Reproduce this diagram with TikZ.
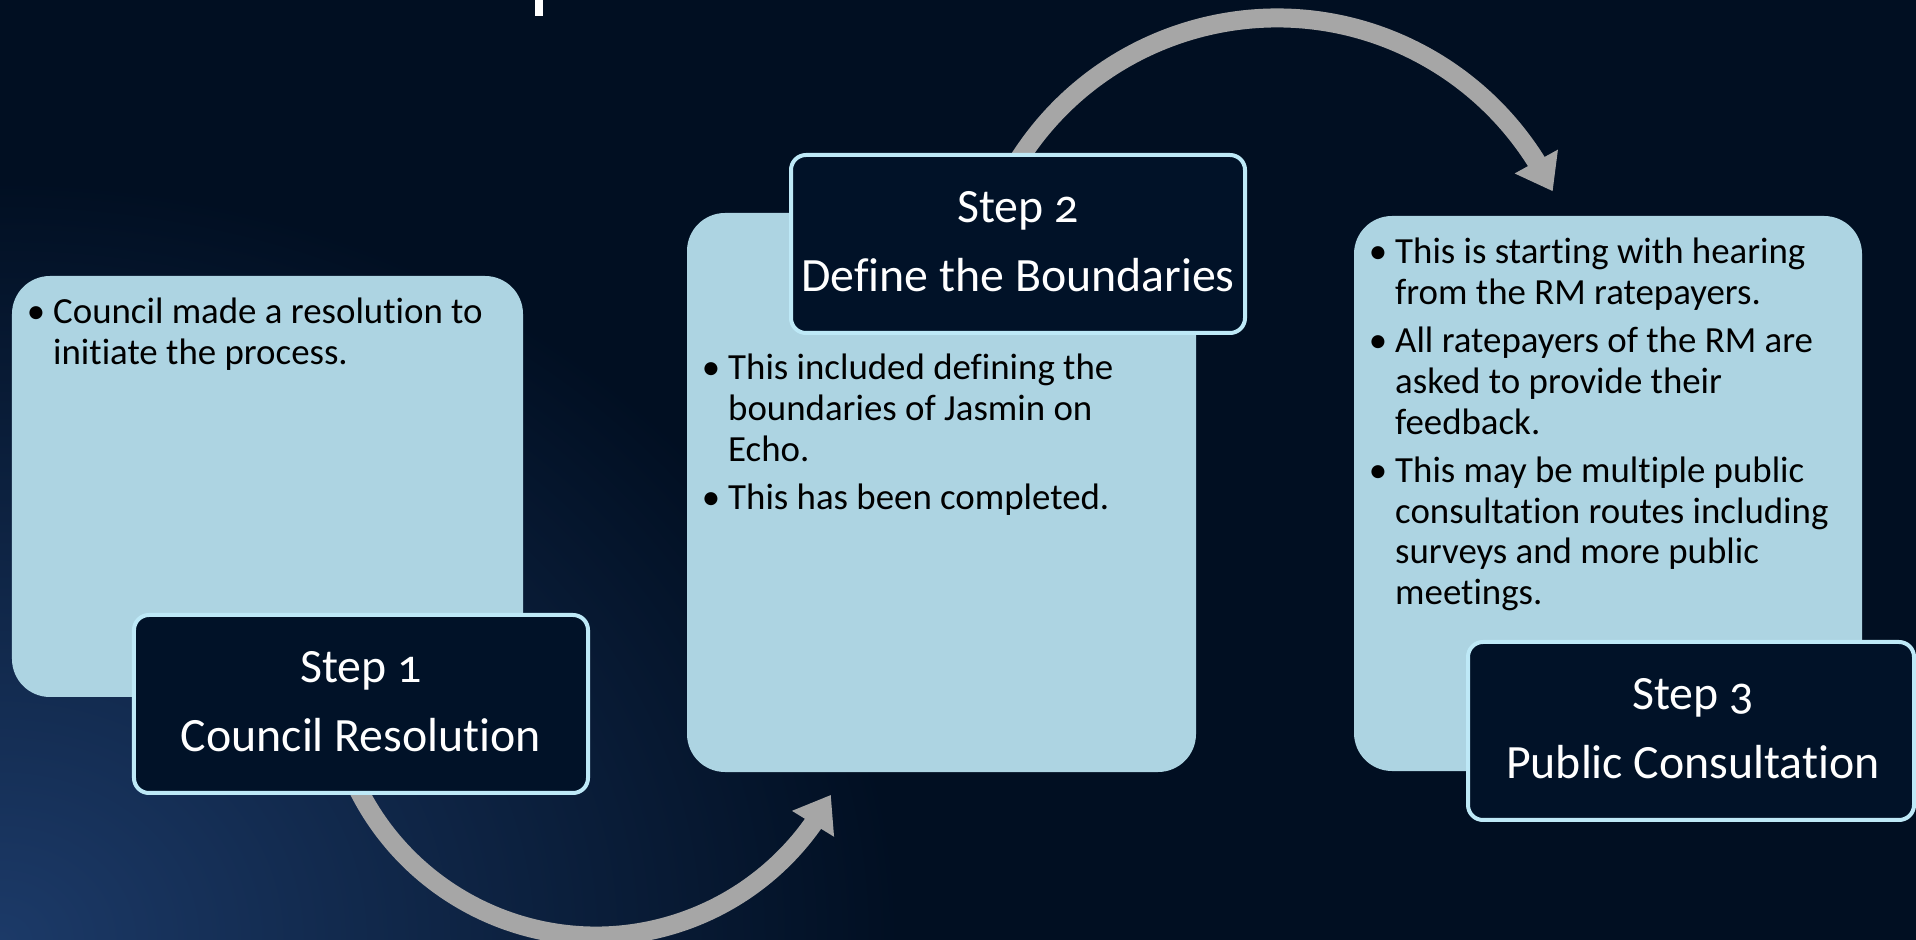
\documentclass[tikz,border=0pt]{standalone}
\usepackage{fontspec}
\setmainfont{Carlito}[Numbers=OldStyle, Ligatures=NoCommon]
\usetikzlibrary{arrows.meta,bending,calc}
\definecolor{bg}{RGB}{1,15,34}
\definecolor{glow}{RGB}{28,58,104}
\definecolor{darkfill}{RGB}{1,18,40}
\definecolor{edge}{RGB}{190,233,247}
\definecolor{lightfill}{RGB}{173,212,226}
\definecolor{arrowgray}{RGB}{166,166,166}
\tikzset{
  lightbox/.style={draw=none, fill=lightfill, rounded corners=38bp, inner sep=0pt},
  darkbox/.style={draw=edge, line width=4bp, fill=darkfill, rounded corners=15bp, inner sep=0pt},
  bodytext/.style={anchor=base west, inner sep=0pt, text=black, font=\fontsize{37}{41}\selectfont},
  titletext/.style={anchor=base, inner sep=0pt, text=white, font=\fontsize{48}{58}\selectfont},
  curvedarrow/.style={draw=arrowgray, line width=19bp, -{Triangle[length=34bp,width=47bp,flex]}},
}
\newcommand{\bul}{\noindent\llap{\textbullet\hspace{8bp}}}
\begin{document}
\begin{tikzpicture}[x=1bp,y=1bp]
  \useasboundingbox (0,0) rectangle (1916,940);
  \fill[bg] (0,0) rectangle (1916,940);
  \begin{scope}
    \clip (0,0) rectangle (1916,940);
    \shade[inner color=glow, outer color=bg] (0,0) ellipse (900 and 760);
  \end{scope}
  % fragment of cut-off title
  \fill[white] (535,924) rectangle (543,940);

  % arrows
  \coordinate (c1) at (596,270);
  \coordinate (c2) at (1277,616);
  \draw[curvedarrow] ($(c1)+(200:266)$) arc[start angle=200, end angle=332, radius=266];
  \draw[curvedarrow] ($(c2)+(152:306)$) arc[start angle=152, end angle=25.7, radius=306];

  % light boxes
  \node[lightbox, minimum width=511bp, minimum height=421bp] (L1) at (267.5,453.5) {};
  \node[lightbox, minimum width=509bp, minimum height=559bp] (L2) at (941.5,447.5) {};
  \node[lightbox, minimum width=508bp, minimum height=555bp] (L3) at (1608,446.5) {};

  % dark boxes
  \node[darkbox, minimum width=454bp, minimum height=178bp] (D1) at (361,236) {};
  \node[darkbox, minimum width=454bp, minimum height=178bp] (D2) at (1018,696) {};
  \node[darkbox, minimum width=446bp, minimum height=178bp] (D3) at (1691,209) {};

  % body texts
  \node[bodytext] (T1) at (53,616) {\parbox[t]{600bp}{\setlength{\parskip}{7bp}%
    \bul Council made a resolution to\\initiate the process.}};
  \node[bodytext] (T2) at (728,560) {\parbox[t]{600bp}{\setlength{\parskip}{7bp}%
    \bul This included defining the\\boundaries of Jasmin on\\Echo.\par
    \bul This has been completed.}};
  \node[bodytext] (T3) at (1395,676) {\parbox[t]{600bp}{\setlength{\parskip}{7bp}%
    \bul This is starting with hearing\\from the RM ratepayers.\par
    \bul All ratepayers of the RM are\\asked to provide their\\feedback.\par
    \bul This may be multiple public\\consultation routes including\\surveys and more public\\meetings.}};

  % titles
  \node[titletext] (S1) at ($(D1.center)+(0,21)$) {Step 1};
  \node[titletext] (N1) at ($(D1.center)+(0,-48)$) {Council Resolution};
  \node[titletext] (S2) at ($(D2.center)+(0,21)$) {Step 2};
  \node[titletext] (N2) at ($(D2.center)+(0,-48)$) {Define the Boundaries};
  \node[titletext] (S3) at ($(D3.center)+(2,21)$) {Step 3};
  \node[titletext] (N3) at ($(D3.center)+(2,-48)$) {Public Consultation};
\end{tikzpicture}
\end{document}
